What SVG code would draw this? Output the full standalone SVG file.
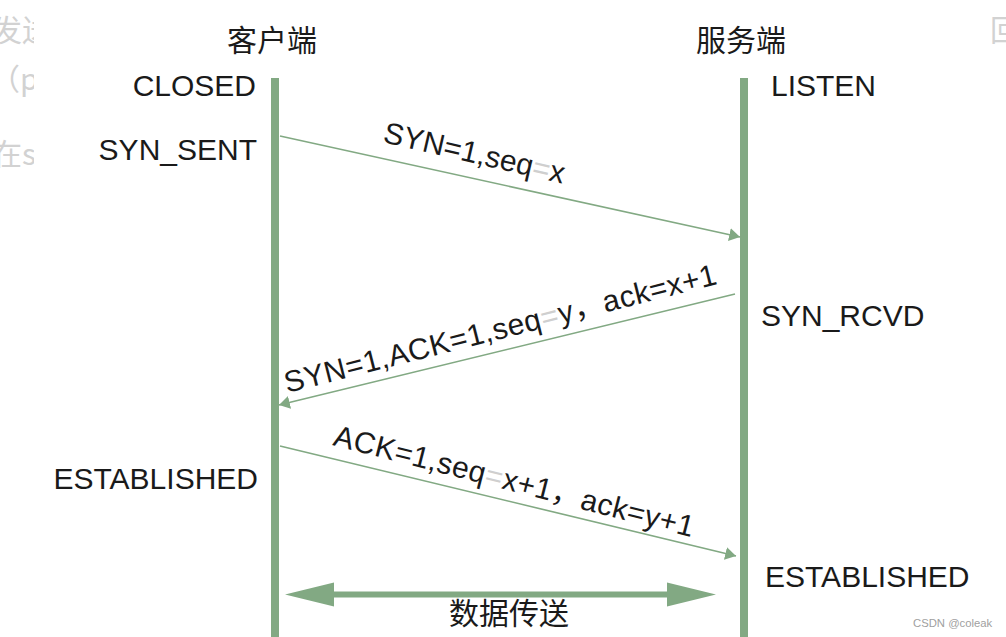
<svg xmlns="http://www.w3.org/2000/svg" width="1006" height="637" viewBox="0 0 1006 637">
<style>
.t{font-family:"Liberation Sans","Noto Sans CJK SC",sans-serif;font-size:30px;fill:#1a1a1a}
.cjk{font-family:"Noto Sans CJK SC","Liberation Sans",sans-serif;font-size:30px;fill:#1a1a1a}
.faint{font-family:"Noto Sans CJK SC","Liberation Sans",sans-serif;font-size:30px;fill:#d2d2d2}
.life{stroke:#82a983;stroke-width:8;fill:none}
.msg{stroke:#82a983;stroke-width:1.6;fill:none}
.lt{fill:#cfcfcf}
</style>
<defs>
<marker id="ah" viewBox="0 0 10 12" refX="10" refY="6" markerWidth="11" markerHeight="13" markerUnits="userSpaceOnUse" orient="auto">
<path d="M0,0 L10,6 L0,12 Z" fill="#82a983"/>
</marker>
<clipPath id="lc"><rect x="0" y="0" width="34" height="200"/></clipPath>
</defs>
<rect width="1006" height="637" fill="#ffffff"/>
<g id="background-text">
<g clip-path="url(#lc)">
<text class="faint" x="-8" y="41">发送</text>
<text class="faint" x="-10" y="90">（p</text>
<text class="faint" x="-8" y="165">在s</text>
</g>
<text class="faint" x="990" y="41">回</text>
</g>
<g id="client">
<text class="cjk" x="272" y="51" text-anchor="middle">客户端</text>
<line class="life" x1="275" y1="78" x2="275" y2="637"/>
<text class="t" x="256" y="96" text-anchor="end">CLOSED</text>
<text class="t" x="257" y="160" text-anchor="end">SYN_SENT</text>
<text class="t" x="258" y="489" text-anchor="end">ESTABLISHED</text>
</g>
<g id="server">
<text class="cjk" x="741" y="51" text-anchor="middle">服务端</text>
<line class="life" x1="744" y1="78" x2="744" y2="637"/>
<text class="t" x="771" y="96">LISTEN</text>
<text class="t" x="761" y="326">SYN_RCVD</text>
<text class="t" x="765" y="587">ESTABLISHED</text>
</g>
<g id="connectors">
<line class="msg" x1="280" y1="136" x2="740" y2="237" marker-end="url(#ah)"/>
<text class="t" transform="translate(382,142) rotate(13)">SYN=1,seq<tspan class="lt">=</tspan>x</text>
<line class="msg" x1="735" y1="294" x2="279" y2="405" marker-end="url(#ah)"/>
<text class="t" letter-spacing="0.5" transform="translate(287,393) rotate(-14.2)">SYN=1,ACK=1,seq<tspan class="lt">=</tspan>y，ack=x+1</text>
<line class="msg" x1="280" y1="446" x2="736" y2="556" marker-end="url(#ah)"/>
<text class="t" letter-spacing="0.4" transform="translate(332,445) rotate(14.4)">ACK=1,seq<tspan class="lt">=</tspan>x+1，ack=y+1</text>
<g id="data-transfer">
<line x1="330" y1="594.5" x2="670" y2="594.5" stroke="#82a983" stroke-width="6"/>
<polygon points="285,594.5 334,582.5 334,606.5" fill="#82a983"/>
<polygon points="716,594.5 667,582.5 667,606.5" fill="#82a983"/>
<text class="cjk" x="509" y="624" text-anchor="middle">数据传送</text>
</g>
</g>
<text x="913" y="627" font-family="Liberation Sans,sans-serif" font-size="11.3" fill="#a0a0a0">CSDN @coleak</text>
</svg>
